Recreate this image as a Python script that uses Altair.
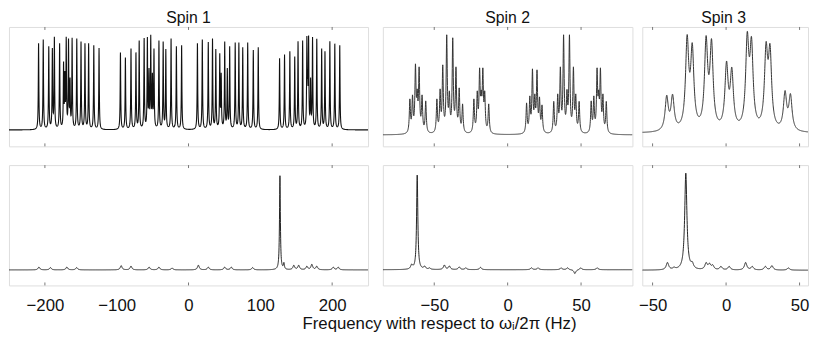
import numpy as np
import pandas as pd
import altair as alt

FONT = "Liberation Sans"

# ---------------- values ----------------
# Spin 1, top: line positions (Hz) and peak heights (relative)
s1_pos = [-208.8, -202.3, -194.6, -189.6, -186.8, -179.5, -174.0, -172.2, -170.3, -167.1, -165.0,
          -162.1, -155.6, -149.7, -144.2, -139.1, -131.9, -124.6,
          -94.8, -87.9, -80.1, -73.2, -68.7, -61.8, -57.3, -55.0, -52.6, -50.3, -48.1, -41.2,
          -35.3, -31.6, -24.3, -16.9, -9.6,
          12.4, 19.2, 27.5, 33.4, 38.0, 43.5, 45.5, 50.4, 54.0, 57.3, 65.0, 70.1, 75.5, 82.4,
          90.2, 97.1,
          126.8, 133.7, 141.1, 147.9, 152.5, 158.9, 164.8, 165.9, 167.2, 170.0, 172.7, 178.6,
          185.4, 190.0, 196.8, 203.7, 210.6]
s1_h = [0.91, 0.95, 0.88, 0.86, 0.98, 0.91, 0.72, 0.62, 0.98, 0.96, 0.55,
        0.97, 0.96, 0.93, 0.91, 0.91, 0.89, 0.86,
        0.815, 0.76, 0.856, 0.815, 0.94, 0.966, 0.976, 0.65, 1.0, 0.6, 0.856, 0.94,
        0.93, 0.85, 0.96, 0.88, 0.89,
        0.91, 0.95, 0.925, 0.96, 0.85, 0.805, 0.6, 0.93, 0.65, 0.88, 0.92, 0.92, 0.87, 0.92,
        0.84, 0.87,
        0.753, 0.794, 0.828, 0.771, 0.931, 0.941, 0.987, 0.6, 0.993, 0.55, 0.976, 0.959,
        0.856, 0.828, 0.931, 0.907, 0.89]

# Spin 1, bottom
s1b_pos = [-208.3, -192.3, -169.4, -155.7, -93.8, -80.1, -54.9, -41.2, -22.9, 13.7, 27.5,
           50.4, 59.5, 89.3, 127.3, 132.8, 146.6, 153.4, 164.8, 171.7, 178.6, 201.5, 208.4]
s1b_h = [0.03, 0.025, 0.03, 0.025, 0.045, 0.04, 0.03, 0.03, 0.02, 0.05, 0.03,
         0.03, 0.03, 0.025, 1.0, 0.08, 0.05, 0.05, 0.04, 0.06, 0.04, 0.03, 0.03]
s1b_w = [1.5] * 14 + [0.7, 0.8] + [1.5] * 7

# Spin 2, top
s2_pos = [-66.6, -64.8, -62.8, -61.6, -60.3, -58.3, -55.8,
          -48.2, -46.0, -44.2, -41.5, -39.7, -37.4, -35.2, -33.0, -30.7,
          -23.0, -20.7, -19.1, -18.0, -16.9, -15.6, -12.9,
          12.9, 15.1, 16.9, 18.5, 20.0, 21.7, 23.4,
          31.4, 34.1, 35.9, 38.1, 40.4, 42.1, 44.8, 46.4, 48.7,
          56.9, 58.7, 60.9, 62.0, 63.2, 64.9, 67.2]
s2_h = [0.36, 0.40, 0.71, 0.46, 0.68, 0.40, 0.34,
        0.36, 0.46, 0.70, 1.0, 0.44, 0.97, 0.68, 0.47, 0.31,
        0.36, 0.44, 0.67, 0.45, 0.67, 0.44, 0.31,
        0.32, 0.39, 0.66, 0.41, 0.65, 0.38, 0.30,
        0.335, 0.41, 0.68, 1.0, 0.455, 1.0, 0.68, 0.41, 0.335,
        0.34, 0.39, 0.67, 0.45, 0.67, 0.41, 0.335]

# Spin 2, bottom
s2b_pos = [-65.4, -61.6, -56.5, -53.2, -43.1, -39.7, -33.0, -28.5, -18.5, 16.2, 20.7,
           36.4, 40.8, 45.8, 49.8, 61.0]
s2b_h = [0.06, 1.0, 0.04, 0.02, 0.05, 0.04, 0.03, 0.02, 0.025, 0.02, 0.02,
         0.02, 0.02, -0.04, 0.02, 0.02]
s2b_w = [0.8, 0.5] + [0.8] * 14

# Spin 3, top
s3_pos = [-40.4, -36.4, -26.5, -23.0, -13.6, -9.9, 0.3, 3.9, 14.4, 17.3, 27.2, 29.9, 40.1, 43.8]
s3_h = [0.374, 0.384, 0.97, 0.89, 0.96, 0.93, 0.71, 0.65, 1.0, 0.95, 0.90, 0.88, 0.42, 0.39]

# Spin 3, bottom
s3b_pos = [-39.9, -35.4, -27.4, -23.0, -13.6, -11.3, -9.1, -3.5, 2.1, 13.3, 17.8, 26.7, 31.2, 42.4]
s3b_h = [0.08, 0.033, 1.0, 0.09, 0.08, 0.073, 0.057, 0.04, 0.04, 0.08, 0.04, 0.04, 0.047, 0.023]
s3b_w = [1.0, 1.0, 0.9] + [1.0] * 11

# axis labels and tick marks
s1_labels = [-200, -100, 0, 100, 200]
s1_ticks = [-200, 0, 200]
s23_labels = [-50, 0, 50]
s23_ticks = [-50, 0, 50]

titles = ["Spin 1", "Spin 2", "Spin 3"]
xlabel = "Frequency with respect to \u03c9\u1d62/2\u03c0 (Hz)"


# --------------- line spectra built from the peak lists ---------------
def spectrum(pos, h, w, lo, hi, step):
    pos = np.asarray(pos, float)
    h = np.asarray(h, float)
    w = np.broadcast_to(np.asarray(w, float), pos.shape)
    M = 1.0 / (1.0 + ((pos[:, None] - pos[None, :]) / w[None, :]) ** 2)
    amp = np.linalg.solve(M, h)
    x = np.union1d(np.arange(lo, hi + step / 2, step), pos)
    y = (amp[None, :] / (1.0 + ((x[:, None] - pos[None, :]) / w[None, :]) ** 2)).sum(axis=1)
    return pd.DataFrame({"x": x, "y": y})


def panel(df, xdom, ydom, w, h, ticks, labels, show_axis, color, sw=1.0):
    xs = alt.Scale(domain=xdom, nice=False, zero=False)
    ys = alt.Scale(domain=ydom, nice=False, zero=False)
    if show_axis:
        xax = alt.Axis(values=labels, ticks=False, domain=False, grid=False, title=None,
                       labelFontSize=17, labelFont=FONT, labelColor="#111",
                       labelPadding=12, labelOverlap=False, labelFlush=False)
    else:
        xax = None
    line = alt.Chart(df).mark_line(color=color, strokeWidth=sw, clip=True).encode(
        x=alt.X("x:Q", scale=xs, axis=xax),
        y=alt.Y("y:Q", scale=ys, axis=None),
    )
    tdf = pd.DataFrame({"x": ticks})
    tk_top = alt.Chart(tdf).mark_rule(color="#777", strokeWidth=1).encode(
        x=alt.X("x:Q", scale=xs, axis=xax), y=alt.value(0), y2=alt.value(3))
    tk_bot = alt.Chart(tdf).mark_rule(color="#777", strokeWidth=1).encode(
        x=alt.X("x:Q", scale=xs, axis=xax), y=alt.value(h - 3), y2=alt.value(h))
    return alt.layer(line, tk_top, tk_bot).properties(width=w, height=h)


TOP_H, BOT_H = 121, 122
W1, W2, W3 = 364, 253, 168
X1 = [-250, 250]
X2 = [-85, 85]
X3 = [-57, 55.75]

d1t = spectrum(s1_pos, s1_h, 0.45, X1[0], X1[1], 0.15)
d1b = spectrum(s1b_pos, s1b_h, s1b_w, X1[0], X1[1], 0.15)
d2t = spectrum(s2_pos, s2_h, 0.45, X2[0], X2[1], 0.08)
d2b = spectrum(s2b_pos, s2b_h, s2b_w, X2[0], X2[1], 0.08)
d3t = spectrum(s3_pos, s3_h, 1.3, X3[0], X3[1], 0.08)
d3b = spectrum(s3b_pos, s3b_h, s3b_w, X3[0], X3[1], 0.08)


def col_title(t):
    return alt.Title(t, fontSize=16, font=FONT, fontWeight="normal", anchor="middle",
                     offset=0, color="#111")


VS = 17
col1 = alt.vconcat(
    panel(d1t, X1, [-0.172, 1.082], W1, TOP_H, s1_ticks, s1_labels, False, "#111", 1.1),
    panel(d1b, X1, [-0.165, 1.113], W1, BOT_H, s1_ticks, s1_labels, True, "#222"),
    spacing=VS, title=col_title(titles[0]))
col2 = alt.vconcat(
    panel(d2t, X2, [-0.114, 1.078], W2, TOP_H, s23_ticks, s23_labels, False, "#333"),
    panel(d2b, X2, [-0.166, 1.105], W2, BOT_H, s23_ticks, s23_labels, True, "#222"),
    spacing=VS, title=col_title(titles[1]))
col3 = alt.vconcat(
    panel(d3t, X3, [-0.129, 1.045], W3, TOP_H, s23_ticks, s23_labels, False, "#333"),
    panel(d3b, X3, [-0.157, 1.083], W3, BOT_H, s23_ticks, s23_labels, True, "#222"),
    spacing=VS, title=col_title(titles[2]))

right = alt.hconcat(col2, col3, spacing=4)

chart = alt.hconcat(
    col1, right, spacing=13,
    title=alt.Title(xlabel, orient="bottom", anchor="middle", dx=31, fontSize=17, font=FONT,
                    fontWeight="normal", offset=3, color="#111"),
).properties(padding=0).configure_view(stroke="#6e6e6e", strokeWidth=1.2).configure(font=FONT)

chart.save("out.html", embed_options={"renderer": "svg", "actions": False})
